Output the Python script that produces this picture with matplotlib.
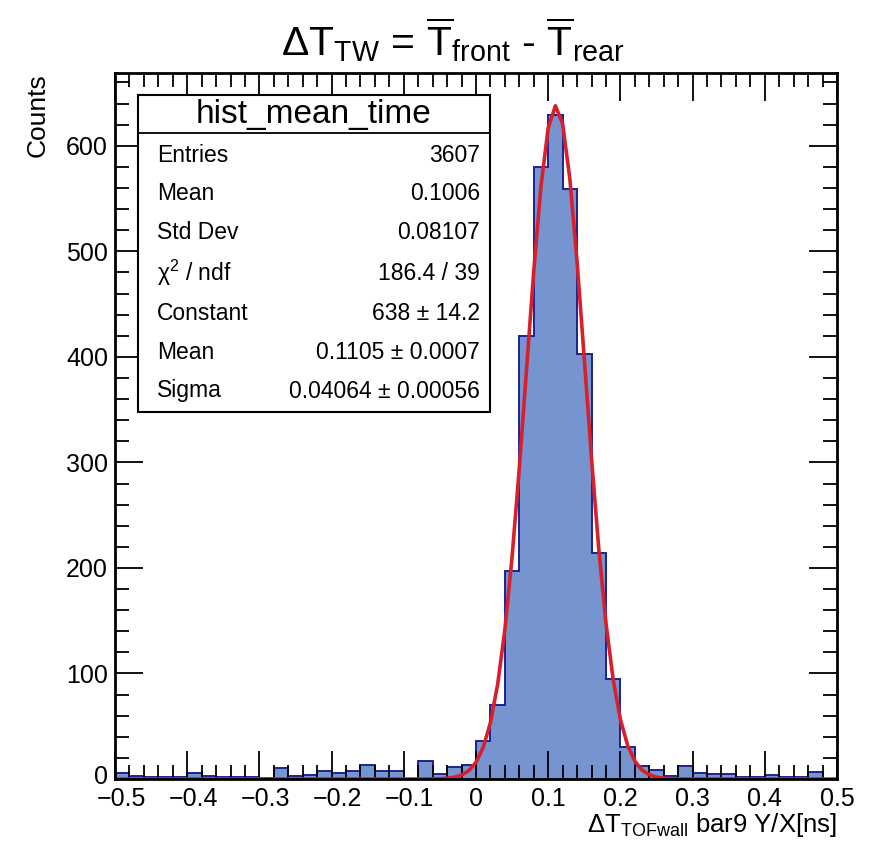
import numpy as np
import matplotlib
matplotlib.use("Agg")
import matplotlib.pyplot as plt
import matplotlib.transforms as mtransforms
from matplotlib.patches import Rectangle
from matplotlib.ticker import MultipleLocator

plt.rcParams["font.family"] = ["Liberation Sans", "DejaVu Sans"]
plt.rcParams["mathtext.fontset"] = "custom"
plt.rcParams["mathtext.rm"] = "Liberation Sans"
plt.rcParams["mathtext.it"] = "Liberation Sans:italic"
plt.rcParams["mathtext.bf"] = "Liberation Sans:bold"

# ---- data ----
bin_edges = np.linspace(-0.5, 0.5, 51)
counts = [
    6, 3, 2, 2, 2, 6, 3, 2, 2, 2,
    1, 10, 3, 4, 8, 6, 8, 13, 8, 8,
    0, 17, 5, 11, 13,
    36, 70, 197, 420, 580, 629, 559, 403, 214, 95, 30, 12, 9,
    3, 12, 6, 5, 5, 2, 2, 4, 2, 2, 7, 0,
]

# gaussian fit parameters shown in the stats box
fit_const = 638.0
fit_mean = 0.1105
fit_sigma = 0.04064

x_ticks = [-0.5, -0.4, -0.3, -0.2, -0.1, 0.0, 0.1, 0.2, 0.3, 0.4, 0.5]
x_ticklabels = ["\u22120.5", "\u22120.4", "\u22120.3", "\u22120.2", "\u22120.1",
                "0", "0.1", "0.2", "0.3", "0.4", "0.5"]
y_ticks = [0, 100, 200, 300, 400, 500, 600]

stat_labels = ["Entries", "Mean", "Std Dev", r"$\mathrm{\chi}^{2}$ / ndf",
               "Constant", "Mean", "Sigma"]
stat_values = ["3607", "0.1006", "0.08107", "186.4 / 39",
               "638 \u00b1 14.2", "0.1105 \u00b1 0.0007", "0.04064 \u00b1 0.00056"]

W, H = 884, 841
fig = plt.figure(figsize=(W / 100, H / 100), dpi=100)
ax = fig.add_axes([115 / W, 1 - 779 / H, (837 - 115) / W, (779 - 73) / H])

# histogram
ax.stairs(counts, bin_edges, fill=True, color="#7594d0", linewidth=0)
ax.stairs(counts, bin_edges, color="#1c2390", linewidth=1.4, baseline=0)

# fit curve (ROOT-like 100 points)
xf = np.linspace(-0.5, 0.5, 101)
yf = fit_const * np.exp(-0.5 * ((xf - fit_mean) / fit_sigma) ** 2)
ax.plot(xf, yf, color="#d8202b", linewidth=2.6)

ax.set_xlim(-0.5, 0.5)
ax.set_ylim(0, 669)
ax.xaxis.set_minor_locator(MultipleLocator(0.02))
ax.yaxis.set_minor_locator(MultipleLocator(20))
ax.tick_params(which="both", direction="in", top=True, right=True,
               width=1.3, colors="black", labelsize=18)
ax.tick_params(which="major", length=20)
ax.tick_params(which="minor", length=10)
ax.tick_params(axis="x", pad=6)
ax.tick_params(axis="y", pad=5)
ax.set_xticks(x_ticks)
ax.set_xticklabels(x_ticklabels)
ax.set_yticks(y_ticks)
ax.set_yticklabels([str(v) for v in y_ticks])
# ROOT centres the digits, so negative labels sit a bit to the right
shift = mtransforms.ScaledTranslation(6 / 100, 0, fig.dpi_scale_trans)
for lbl, v in zip(ax.get_xticklabels(), x_ticks):
    if v < 0:
        lbl.set_transform(lbl.get_transform() + shift)
# nudge the y "0" up a little so it does not sit on the "-0.5"
lift = mtransforms.ScaledTranslation(0, 4 / 100, fig.dpi_scale_trans)
zero_lbl = ax.get_yticklabels()[0]
zero_lbl.set_transform(zero_lbl.get_transform() + lift)
for s in ax.spines.values():
    s.set_linewidth(2)

ax.set_xlabel(r"$\Delta\mathrm{T}_{\mathrm{TOFwall}}$ bar9 Y/X[ns]", fontsize=18.5,
              loc="right", labelpad=0)
ax.set_ylabel("Counts", fontsize=19, loc="top", labelpad=12)

fig.text(453 / W, 1 - 40 / H,
         r"$\Delta\mathrm{T}_{\mathrm{TW}}$ = $\overline{\mathrm{T}}_{\mathrm{front}}$"
         r" - $\overline{\mathrm{T}}_{\mathrm{rear}}$",
         ha="center", va="center", fontsize=29.5)

# stats box
bx0, bx1, by0, by1 = 138, 490, 95, 412
fig.patches.append(Rectangle((bx0 / W, 1 - by1 / H), (bx1 - bx0) / W, (by1 - by0) / H,
                             transform=fig.transFigure, facecolor="white",
                             edgecolor="black", linewidth=1.5, zorder=5))
fig.lines.append(plt.Line2D([bx0 / W, bx1 / W], [1 - 133 / H, 1 - 133 / H],
                            transform=fig.transFigure, color="black", linewidth=1.3,
                            zorder=6))
fig.text((bx0 + bx1) / 2 / W, 1 - 114 / H, "hist_mean_time", ha="center", va="center",
         fontsize=24, zorder=7)
row_y = [156, 194, 233, 273, 314, 353, 391]
for lab, val, yy in zip(stat_labels, stat_values, row_y):
    fig.text(157 / W, 1 - yy / H, lab, ha="left", va="center", fontsize=16.5, zorder=7)
    fig.text(480 / W, 1 - yy / H, val, ha="right", va="center", fontsize=16.5, zorder=7)

fig.savefig("out.png", dpi=100)
